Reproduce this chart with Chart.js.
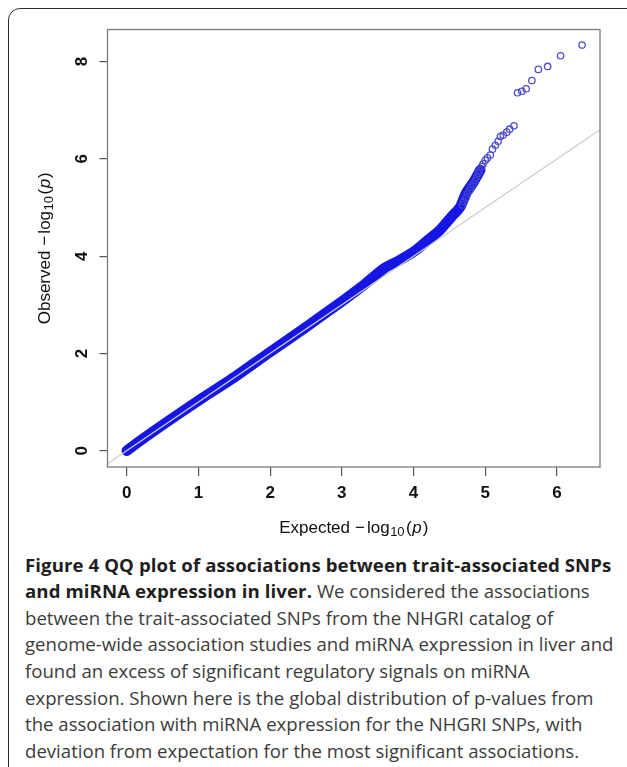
<!DOCTYPE html>
<html>
<head>
<meta charset="utf-8">
<script src="https://cdn.jsdelivr.net/npm/chart.js@4.4.1/dist/chart.umd.min.js"></script>
<style>
  html, body { margin: 0; padding: 0; background: #fff; }
  body { width: 627px; height: 767px; overflow: hidden; position: relative; }
  #frame { position: absolute; left: 8px; top: 8px; width: 660px; height: 820px; border: 1.5px solid #2b2b2b; border-radius: 12px; box-sizing: border-box; }
  #plot { position: absolute; left: 0; top: 0; width: 627px; height: 545px; }
  #caption { position: absolute; left: 25px; top: 551.7px; font-family: "Open Sans", sans-serif; font-size: 18.6px; line-height: 26.6px; color: #3c3c3c; white-space: nowrap; }
  #caption b { color: #1e1e1e; letter-spacing: 0.1px; }
</style>
</head>
<body>
<div id="frame"></div>
<div id="plot"><canvas id="qq"></canvas></div>
<div id="caption">
  <div><b>Figure 4 QQ plot of associations between trait-associated SNPs</b></div>
  <div><b>and miRNA expression in liver.</b> We considered the associations</div>
  <div>between the trait-associated SNPs from the NHGRI catalog of</div>
  <div>genome-wide association studies and miRNA expression in liver and</div>
  <div>found an excess of significant regulatory signals on miRNA</div>
  <div>expression. Shown here is the global distribution of p-values from</div>
  <div>the association with miRNA expression for the NHGRI SNPs, with</div>
  <div>deviation from expectation for the most significant associations.</div>
</div>
<script>
// centre of the dense band of points (expected vs observed -log10 p)
var bandExpected = [0, 0.25, 0.55, 1.0, 1.46, 2.0, 2.5, 3.0, 3.3, 3.59, 3.81, 4.03, 4.2, 4.37, 4.53, 4.65, 4.73, 4.84, 4.93];
var bandObserved = [0, 0.27, 0.58, 1.03, 1.47, 2.03, 2.54, 3.07, 3.4, 3.75, 3.92, 4.12, 4.33, 4.54, 4.81, 5.01, 5.29, 5.53, 5.77];

// single SNPs in the upper tail
var tailExpected = [4.68, 4.70, 4.73, 4.75, 4.78, 4.80, 4.83, 4.86, 4.88, 4.90, 4.92, 4.95, 4.97, 5.00, 5.03, 5.07, 5.10, 5.14, 5.18, 5.21, 5.25, 5.30, 5.34, 5.40, 5.45, 5.51, 5.57, 5.65, 5.74, 5.87, 6.05, 6.35];
var tailObserved = [5.05, 5.12, 5.20, 5.28, 5.35, 5.42, 5.48, 5.55, 5.62, 5.70, 5.76, 5.84, 5.90, 5.97, 6.02, 6.08, 6.20, 6.28, 6.36, 6.46, 6.49, 6.55, 6.61, 6.68, 7.36, 7.39, 7.44, 7.61, 7.84, 7.90, 8.12, 8.34];

// y = x reference line ends (clipped to the plot box)
var refLine = [-0.5, 7];

var xTicks = [0, 1, 2, 3, 4, 5, 6];
var yTicks = [0, 2, 4, 6, 8];

var band = bandExpected.map(function (x, i) { return { x: x, y: bandObserved[i] }; });
var tail = tailExpected.map(function (x, i) { return { x: x, y: tailObserved[i] }; });
var ref = refLine.map(function (v) { return { x: v, y: v }; });

var sans = 'Liberation Sans, Arial, sans-serif';

// axis title as runs: "name −log10(p)" with subscript 10 and italic p
function titleRuns(name) {
  return [
    { t: name, font: '17px ' + sans, dy: 0, gap: 5 },
    { t: '\u2212', font: '17px ' + sans, dy: 0, gap: 2 },
    { t: 'log', font: '17px ' + sans, dy: 0, gap: 0.5 },
    { t: '10', font: '13px ' + sans, dy: 4.5, gap: 1.5 },
    { t: '(', font: '17px ' + sans, dy: 0, gap: 0.5 },
    { t: 'p', font: 'italic 17px ' + sans, dy: 0, gap: 1 },
    { t: ')', font: '17px ' + sans, dy: 0, gap: 0 }
  ];
}

function drawRuns(ctx, runs, cx, cy, angle) {
  var total = 0;
  runs.forEach(function (r) { ctx.font = r.font; r.w = ctx.measureText(r.t).width; total += r.w + r.gap; });
  ctx.save();
  ctx.translate(cx, cy);
  ctx.rotate(angle);
  ctx.fillStyle = '#111';
  ctx.textBaseline = 'middle';
  ctx.textAlign = 'left';
  var x = -total / 2;
  runs.forEach(function (r) { ctx.font = r.font; ctx.fillText(r.t, x, r.dy); x += r.w + r.gap; });
  ctx.restore();
}

// R style box round the plot region, plus the two axis titles
var boxPlugin = {
  id: 'box',
  afterDatasetsDraw: function (chart) {
    var ctx = chart.ctx, a = chart.chartArea;
    ctx.save();
    ctx.strokeStyle = '#7a7a7a';
    ctx.lineWidth = 1.3;
    ctx.strokeRect(a.left, a.top, a.right - a.left, a.bottom - a.top);
    ctx.restore();
  },
  afterDraw: function (chart) {
    var ctx = chart.ctx, a = chart.chartArea;
    drawRuns(ctx, titleRuns('Expected'), (a.left + a.right) / 2, a.bottom + 61, 0);
    drawRuns(ctx, titleRuns('Observed'), a.left - 62.5, (a.top + a.bottom) / 2, -Math.PI / 2);
  }
};

var tickFont = { family: sans, size: 17, weight: 'bold' };

var qq = new Chart(document.getElementById('qq'), {
  type: 'scatter',
  data: {
    datasets: [
      {
        label: 'expected',
        type: 'line',
        data: ref,
        borderColor: '#cdcdcd',
        borderWidth: 1.2,
        pointRadius: 0,
        clip: 0
      },
      {
        label: 'tail',
        data: tail,
        pointRadius: 3.2,
        pointBorderWidth: 1.3,
        pointBorderColor: 'rgba(70, 70, 205, 0.95)',
        pointBackgroundColor: 'rgba(0, 0, 0, 0)'
      },
      {
        label: 'band',
        type: 'line',
        data: band,
        borderColor: '#1515e4',
        borderWidth: 10.5,
        borderCapStyle: 'round',
        borderJoinStyle: 'round',
        tension: 0.25,
        pointRadius: 0,
        clip: 0
      }
    ]
  },
  options: {
    responsive: true,
    maintainAspectRatio: false,
    animation: false,
    layout: { padding: { left: 20, right: 27, top: 29.5, bottom: 2.8 } },
    plugins: { legend: { display: false }, tooltip: { enabled: false } },
    scales: {
      x: {
        type: 'linear',
        position: 'bottom',
        min: -0.268,
        max: 6.6,
        afterBuildTicks: function (s) { s.ticks = xTicks.map(function (v) { return { value: v }; }); },
        afterFit: function (s) { s.height = 75.2; },
        grid: { drawOnChartArea: false, drawTicks: true, tickLength: 9, tickColor: '#555', lineWidth: 1.2 },
        border: { display: false },
        ticks: { padding: 6.8, color: '#111', font: tickFont, autoSkip: false, maxRotation: 0 },
        title: { display: false }
      },
      y: {
        type: 'linear',
        position: 'left',
        min: -0.335,
        max: 8.66,
        afterBuildTicks: function (s) { s.ticks = yTicks.map(function (v) { return { value: v }; }); },
        afterFit: function (s) { s.width = 87.5; },
        grid: { drawOnChartArea: false, drawTicks: true, tickLength: 8, tickColor: '#555', lineWidth: 1.2 },
        border: { display: false },
        ticks: { padding: 12.8, color: '#111', font: tickFont, autoSkip: false, minRotation: 90, maxRotation: 90, crossAlign: 'center' },
        title: { display: false }
      }
    }
  },
  plugins: [boxPlugin]
});
</script>
</body>
</html>
